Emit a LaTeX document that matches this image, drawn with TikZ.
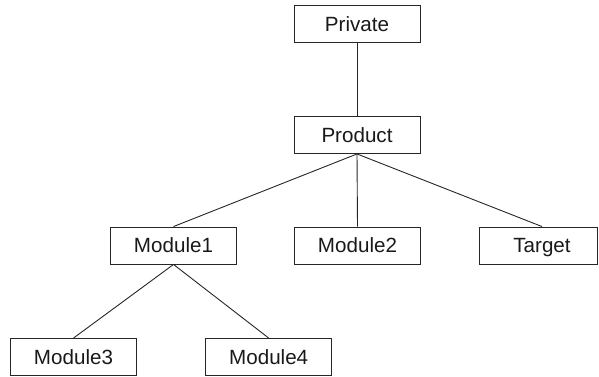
\documentclass[tikz,border=0pt]{standalone}
\usepackage{fontspec}
\setmainfont{Liberation Sans}
\begin{document}
\begin{tikzpicture}[x=1pt,y=-1pt,
  box/.style={draw=black!85, line width=0.9pt, minimum width=126pt, minimum height=37pt,
    inner sep=0pt, text height=14.5pt, text depth=0pt,
    font=\fontsize{20.6}{24}\selectfont, text=black!90},
  link/.style={draw=black!85, line width=0.9pt}]
\useasboundingbox (0,0) rectangle (599,376);
\clip (0,0) rectangle (599,376);
% hierarchy boxes
\node[box] (private) at (357,24) {Private};
\node[box] (product) at (357,135) {Product};
\node[box] (mod1) at (173.5,245.5) {Module1};
\node[box] (mod2) at (357.5,245.5) {Module2};
\node[box, minimum width=118pt] (target) at (538,245.5) {\hspace{8pt}Target};
\node[box] (mod3) at (73.5,357) {Module3};
\node[box] (mod4) at (268.7,357) {Module4};
% tree links
\draw[link] (private.south) -- (product.north);
\draw[link] (product.south) -- (mod1.north);
\draw[link] (product.south) -- (mod2.north);
\draw[link] (product.south) -- ([xshift=4pt]target.north);
\draw[link] (mod1.south) -- (mod3.north);
\draw[link] (mod1.south) -- (mod4.north);
\end{tikzpicture}
\end{document}
